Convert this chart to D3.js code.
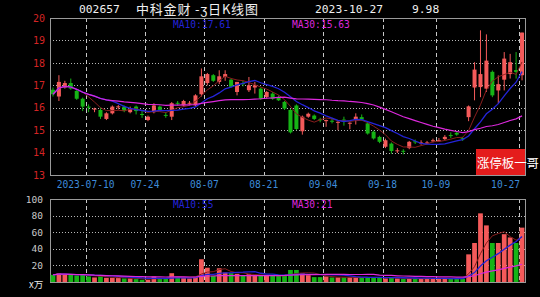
<!DOCTYPE html>
<html>
<head>
<meta charset="utf-8">
<script src="https://cdn.jsdelivr.net/npm/d3@7"></script>
<style>
html, body { margin: 0; padding: 0; background: #000; overflow: hidden; }
</style>
</head>
<body>
<script>
// trading days shown (2023)
var dates = ["06-30",
  "07-03","07-04","07-05","07-06","07-07","07-10","07-11","07-12","07-13","07-14","07-17","07-18","07-19","07-20","07-21","07-24","07-25","07-26","07-27","07-28","07-31",
  "08-01","08-02","08-03","08-04","08-07","08-08","08-09","08-10","08-11","08-14","08-15","08-16","08-17","08-18","08-21","08-22","08-23","08-24","08-25","08-28","08-29","08-30","08-31",
  "09-01","09-04","09-05","09-06","09-07","09-08","09-11","09-12","09-13","09-14","09-15","09-18","09-19","09-20","09-21","09-22","09-25","09-26","09-27","09-28",
  "10-09","10-10","10-11","10-12","10-13","10-16","10-17","10-18","10-19","10-20","10-23","10-24","10-25","10-26","10-27"];

var openP = [16.80,16.50,16.90,17.10,16.75,16.40,16.05,15.92,15.90,15.50,
  15.75,16.02,16.05,15.80,16.05,15.72,15.45,15.80,16.05,15.68,
  15.60,16.22,16.10,16.18,16.10,16.60,17.10,17.45,17.15,17.37,
  17.25,16.70,17.10,16.78,16.90,16.85,16.48,16.63,16.48,16.26,
  15.90,16.10,14.95,15.60,15.65,15.48,15.40,15.42,15.33,15.47,
  15.30,15.45,15.58,15.30,14.93,14.70,14.26,14.40,14.06,14.08,
  14.20,14.50,14.43,14.42,14.50,14.52,14.60,14.78,14.88,14.64,
  15.58,16.90,16.92,16.85,17.60,16.77,17.25,17.50,17.68,17.45];
var highP = [16.90,17.45,17.20,17.30,16.80,16.45,16.15,16.00,16.00,15.80,
  16.10,16.12,16.10,16.05,16.10,15.85,15.65,16.20,16.10,15.80,
  16.25,16.30,16.35,16.30,16.60,17.75,17.55,17.50,17.67,17.67,
  17.30,17.15,17.20,17.37,17.15,16.90,16.75,16.70,16.55,16.30,
  15.95,16.15,15.65,15.78,15.70,15.55,15.47,15.55,15.40,15.60,
  15.35,15.75,15.70,15.35,14.98,14.75,14.62,14.45,14.20,14.15,
  14.52,14.58,14.55,14.52,14.62,14.65,14.78,14.90,14.92,14.70,
  16.10,18.03,19.45,19.27,17.66,17.44,18.48,18.40,18.48,19.35];
var lowP = [16.50,16.30,16.85,16.80,16.35,15.85,15.80,15.80,15.50,15.45,
  15.70,15.92,15.80,15.75,15.70,15.55,15.40,15.75,15.85,15.55,
  15.45,16.10,16.05,16.10,16.05,16.50,17.00,17.15,17.05,17.20,
  16.90,16.55,16.95,16.70,16.63,16.35,16.40,16.35,16.30,15.90,
  14.85,15.00,14.80,15.55,15.45,15.35,15.15,15.30,15.00,15.20,
  15.04,15.25,15.42,14.80,14.58,14.42,14.20,13.95,13.98,13.92,
  14.15,14.38,14.35,14.38,14.45,14.48,14.55,14.65,14.75,14.52,
  15.40,16.33,16.47,16.70,16.47,16.18,16.77,17.30,17.30,17.22];
var closeP = [16.60,17.15,17.10,16.85,16.40,16.05,16.00,15.96,15.60,15.75,
  16.05,16.06,15.85,15.95,15.85,15.68,15.60,16.10,15.90,15.64,
  16.20,16.18,16.30,16.22,16.55,17.40,17.50,17.20,17.40,17.50,
  16.93,17.15,17.05,17.00,17.00,16.40,16.70,16.40,16.33,15.96,
  14.90,15.05,15.60,15.73,15.50,15.44,15.45,15.38,15.37,15.43,
  15.33,15.60,15.47,14.85,14.63,14.48,14.55,14.07,14.10,14.05,
  14.48,14.47,14.45,14.45,14.55,14.55,14.70,14.75,14.80,14.60,
  16.06,17.70,17.50,18.10,16.55,17.05,18.19,18.03,17.59,19.35];
// volume, x万
var volume = [8.6,10.6,9.4,8.6,7.8,8.6,6.7,5.5,6.7,5.1,
  5.1,4.7,4.3,4.3,3.5,2.7,2.7,6.7,4.3,4.3,
  10.6,5.5,4.7,4.3,5.9,27.4,17.2,7.4,16.5,11.4,
  10.6,9.8,7.4,9.4,7.8,7.8,7.4,7.4,7.4,7.4,
  14.5,14.5,10.6,8.2,5.9,5.9,6.7,5.5,5.5,5.5,
  5.5,5.5,5.5,5.5,5.5,5.5,4.3,5.5,4.3,3.9,
  4.3,3.9,4.3,4.3,4.3,4.3,4.3,3.9,3.9,3.9,
  33.3,47,82.7,68.2,47,47,57.6,53.7,47,65.5];

var labelDates = ["07-10","07-24","08-07","08-21","09-04","09-18","10-09","10-27"];
var labelTexts = ["2023-07-10","07-24","08-07","08-21","09-04","09-18","10-09","10-27"];
var priceTicks = [13,14,15,16,17,18,19,20];
var volTicks = [20,40,60,80,100];

var W = 540, H = 297;
var left = 50, right = 525;
var upColor = "#f45a5a", downColor = "#16b416";
var ma5Color = "#8a1e1e", ma10Color = "#2424d8", ma30Color = "#dc28dc";

function movingAvg(arr, n) {
    return arr.map(function(v, i) { return d3.mean(arr.slice(Math.max(0, i - n + 1), i + 1)); });
}

var data = dates.map(function(d, i) {
    return {date: d, o: openP[i], h: highP[i], l: lowP[i], c: closeP[i], v: volume[i]};
});
var ma5 = movingAvg(closeP, 5), ma10 = movingAvg(closeP, 10), ma30 = movingAvg(closeP, 30);
var vma5 = movingAvg(volume, 5), vma10 = movingAvg(volume, 10), vma30 = movingAvg(volume, 30);

var x = d3.scaleBand().domain(dates).range([left, right]);
var bw = x.bandwidth();
var cx = function(d) { return x(d) + bw / 2; };
var y = d3.scaleLinear().domain([13, 20]).range([175, 18]);
var yv = d3.scaleLinear().domain([0, 100]).range([282, 199]);

var svg = d3.select("body").append("svg")
    .attr("width", W).attr("height", H)
    .style("background", "#000");

var mono = "'DejaVu Sans Mono', monospace";
var cjk = "'Noto Sans CJK SC', sans-serif";

// title
svg.append("text").attr("x", 79).attr("y", 13).attr("fill", "#f0f0f0")
    .style("font-family", mono).style("font-size", "11.3px").text("002657");
svg.append("text").attr("x", 136).attr("y", 13.5).attr("fill", "#f0f0f0")
    .style("font-family", cjk).style("font-size", "13px").style("letter-spacing", "0.8px")
    .text("中科金财 -ʒ日K线图");
svg.append("text").attr("x", 315).attr("y", 13).attr("fill", "#f0f0f0")
    .style("font-family", mono).style("font-size", "11.3px").text("2023-10-27");
svg.append("text").attr("x", 412).attr("y", 13).attr("fill", "#f0f0f0")
    .style("font-family", mono).style("font-size", "11.3px").text("9.98");

function panel(yTop, yBot, gridVals, ys) {
    var g = svg.append("g");
    g.selectAll(".hgrid").data(gridVals).enter().append("line")
        .attr("x1", left).attr("x2", right)
        .attr("y1", function(d) { return Math.round(ys(d)) + 0.5; })
        .attr("y2", function(d) { return Math.round(ys(d)) + 0.5; })
        .attr("stroke", "#b8b8b8").attr("stroke-dasharray", "1,2");
    g.selectAll(".vgrid").data(labelDates).enter().append("line")
        .attr("x1", function(d) { return Math.round(x(d)) + 0.5; })
        .attr("x2", function(d) { return Math.round(x(d)) + 0.5; })
        .attr("y1", yTop).attr("y2", yBot)
        .attr("stroke", "#c8c8c8").attr("stroke-dasharray", "4,3");
    g.append("rect").attr("x", left + 0.5).attr("y", yTop + 0.5)
        .attr("width", right - left).attr("height", yBot - yTop)
        .attr("fill", "none").attr("stroke", "#9a9a9a");
    return g;
}

panel(18, 175, [14, 15, 16, 17, 18, 19], y);
panel(199, 282, [20, 40, 60, 80], yv);

// y axes
var yAxis = d3.axisLeft(y).tickValues(priceTicks).tickSize(0).tickPadding(5).tickFormat(d3.format("d"));
var ya = svg.append("g").attr("transform", "translate(" + left + ",0)").call(yAxis);
ya.select(".domain").remove();
ya.selectAll("text").attr("fill", "#d42424").style("font-family", mono).style("font-size", "10px");

var vAxis = d3.axisLeft(yv).tickValues(volTicks).tickSize(0).tickPadding(7).tickFormat(d3.format("d"));
var va = svg.append("g").attr("transform", "translate(" + left + ",0)").call(vAxis);
va.select(".domain").remove();
va.selectAll("text").attr("fill", "#c8c8c8").style("font-family", mono).style("font-size", "9.5px");
svg.append("text").attr("x", 29).attr("y", 288).attr("fill", "#e8e8e8")
    .style("font-family", cjk).style("font-size", "9.5px").text("x万");

// x labels
svg.append("g").selectAll("text").data(labelDates).enter().append("text")
    .attr("x", function(d, i) { return i === labelDates.length - 1 ? right - 5 : x(d); })
    .attr("y", 188)
    .attr("text-anchor", function(d, i) { return i === labelDates.length - 1 ? "end" : "middle"; })
    .attr("fill", "#3d8bd9")
    .style("font-family", mono).style("font-size", "9.6px")
    .text(function(d, i) { return labelTexts[i]; });

// candles
var colorOf = function(d) { return d.c >= d.o ? upColor : downColor; };
var cg = svg.append("g");
cg.selectAll("line").data(data).enter().append("line")
    .attr("x1", function(d) { return cx(d.date); })
    .attr("x2", function(d) { return cx(d.date); })
    .attr("y1", function(d) { return y(d.h); })
    .attr("y2", function(d) { return y(d.l); })
    .attr("stroke", colorOf).attr("stroke-width", 1);
cg.selectAll("rect").data(data).enter().append("rect")
    .attr("x", function(d) { return cx(d.date) - 2; })
    .attr("width", 4)
    .attr("y", function(d) { return y(Math.max(d.o, d.c)); })
    .attr("height", function(d) { return Math.max(1, Math.abs(y(d.o) - y(d.c))); })
    .attr("fill", colorOf);

// price MAs
function drawLine(vals, ys, color, w) {
    svg.append("path").datum(vals)
        .attr("fill", "none").attr("stroke", color).attr("stroke-width", w)
        .attr("d", d3.line().x(function(d, i) { return cx(dates[i]); }).y(function(d) { return ys(d); }));
}
drawLine(ma5, y, ma5Color, 1);
drawLine(ma10, y, ma10Color, 1.3);
drawLine(ma30, y, ma30Color, 1.2);

// volume bars
svg.append("g").selectAll("rect").data(data).enter().append("rect")
    .attr("x", function(d) { return x(d.date) + 0.6; })
    .attr("width", bw - 1.2)
    .attr("y", function(d) { return yv(d.v); })
    .attr("height", function(d) { return yv(0) - yv(d.v); })
    .attr("fill", colorOf);
drawLine(vma5, yv, ma5Color, 1);
drawLine(vma10, yv, ma10Color, 1.3);
drawLine(vma30, yv, ma30Color, 1.2);

// legends
var last = dates.length - 1;
function legend(px, py, txt, color) {
    svg.append("text").attr("x", px).attr("y", py).attr("fill", color)
        .style("font-family", mono).style("font-size", "9.6px").text(txt);
}
legend(173, 28, "MA10:" + ma10[last].toFixed(2), ma10Color);
legend(292, 28, "MA30:" + ma30[last].toFixed(2), ma30Color);
legend(173, 208, "MA10:" + Math.round(vma10[last]), ma10Color);
legend(292, 208, "MA30:" + Math.round(vma30[last]), ma30Color);

// watermark
svg.append("rect").attr("x", 476).attr("y", 149).attr("width", 49).attr("height", 26).attr("fill", "#e41c1c");
svg.append("text").attr("x", 477).attr("y", 168).attr("fill", "#ffffff")
    .style("font-family", cjk).style("font-size", "12.4px").text("涨停板一哥");
</script>
</body>
</html>
